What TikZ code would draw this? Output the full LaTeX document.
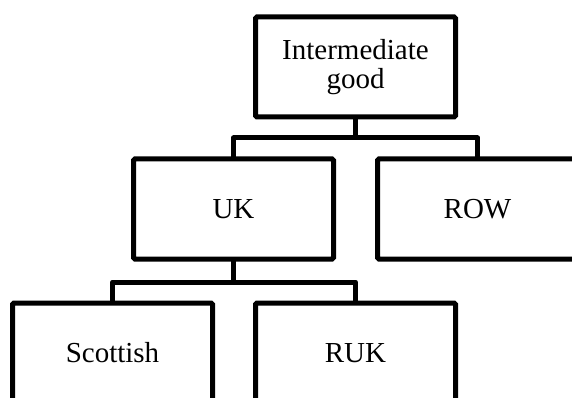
\documentclass[tikz,border=0pt]{standalone}
\usepackage{fontspec}
\setmainfont{Liberation Serif}
\begin{document}
\begin{tikzpicture}[x=1pt,y=-1pt,
  box/.style={draw=black, line width=5pt, rounded corners=1.5pt, fill=white,
    minimum width=200pt, minimum height=100pt, inner sep=0pt, outer sep=0pt,
    align=center, font=\fontsize{29}{29}\selectfont},
  link/.style={draw=black, line width=5pt, line join=round}]
  \useasboundingbox (0,0) rectangle (572,398);

  % connectors (drawn first so the boxes sit on top)
  \coordinate (j1) at (355.5,138);
  \coordinate (j2) at (233.5,282);

  % boxes
  \node[box] (top) at (355.5,67) {Intermediate\\good};
  \node[box] (uk)  at (233.5,209) {UK};
  \node[box] (row) at (477.5,209) {ROW};
  \node[box] (sco) at (112.5,353) {Scottish};
  \node[box] (ruk) at (355.5,353) {RUK};

  % tree links
  \path[link] (top.south) -- (j1);
  \path[link] (uk.north) |- (j1) -| (row.north);
  \path[link] (uk.south) -- (j2);
  \path[link] (sco.north) |- (j2) -| (ruk.north);
\end{tikzpicture}
\end{document}
